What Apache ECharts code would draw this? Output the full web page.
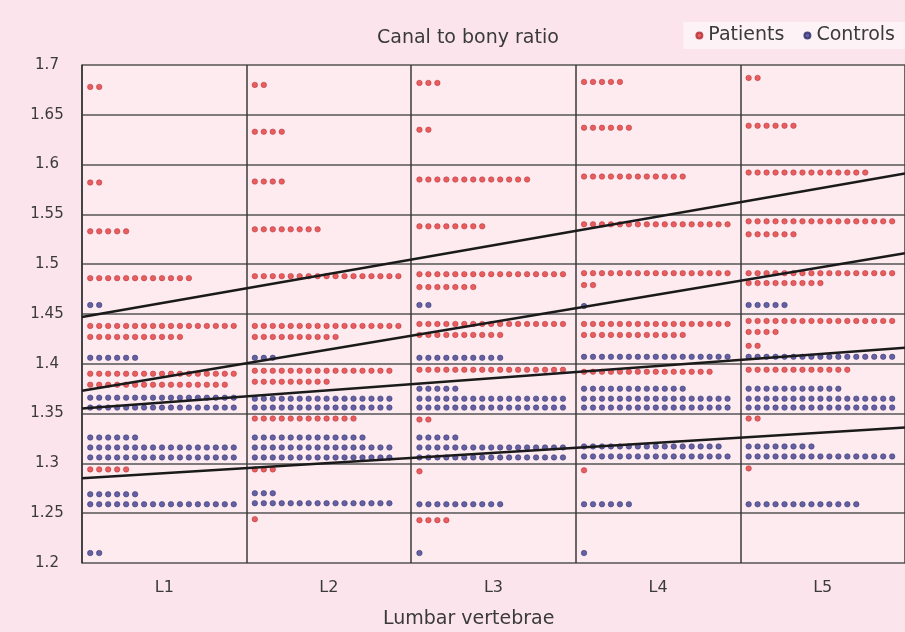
<!DOCTYPE html>
<html><head><meta charset="utf-8">
<script src="https://cdn.jsdelivr.net/npm/echarts@6/dist/echarts.min.js"></script>
<style>html,body{margin:0;padding:0;background:#fbe4eb}#c{width:905px;height:632px}</style>
</head><body><div id="c"></div>
<script>
// Categories (lumbar vertebrae)
const categories = ['L1', 'L2', 'L3', 'L4', 'L5'];

// Each row: [canal-to-bony ratio, number of subjects]
const patientsL1 = [[1.678,2],[1.582,2],[1.533,5],[1.486,12],[1.438,17],[1.427,11],[1.390,17],[1.379,16],[1.294,5]];
const patientsL2 = [[1.680,2],[1.633,4],[1.583,4],[1.535,8],[1.488,17],[1.438,17],[1.427,10],[1.393,16],[1.382,9],[1.345,12],[1.294,3],[1.244,1]];
const patientsL3 = [[1.682,3],[1.635,2],[1.585,13],[1.538,8],[1.490,17],[1.477,7],[1.440,17],[1.429,10],[1.394,17],[1.344,2],[1.292,1],[1.243,4]];
const patientsL4 = [[1.683,5],[1.637,6],[1.588,12],[1.540,17],[1.491,17],[1.479,2],[1.440,17],[1.429,12],[1.392,15],[1.293,1]];
const patientsL5 = [[1.687,2],[1.639,6],[1.592,14],[1.543,17],[1.530,6],[1.491,17],[1.481,9],[1.443,17],[1.432,4],[1.418,2],[1.394,12],[1.345,2],[1.295,1]];

const controlsL1 = [[1.459,2],[1.406,6],[1.366,17],[1.356,17],[1.326,6],[1.316,17],[1.306,17],[1.269,6],[1.259,17],[1.210,2]];
const controlsL2 = [[1.406,3],[1.365,16],[1.356,16],[1.326,13],[1.316,16],[1.306,16],[1.270,3],[1.260,16]];
const controlsL3 = [[1.459,2],[1.406,10],[1.375,5],[1.365,17],[1.356,17],[1.326,5],[1.316,17],[1.306,17],[1.259,10],[1.210,1]];
const controlsL4 = [[1.458,1],[1.407,17],[1.375,12],[1.365,17],[1.356,17],[1.317,16],[1.307,17],[1.259,6],[1.210,1]];
const controlsL5 = [[1.459,5],[1.407,17],[1.375,11],[1.365,17],[1.356,17],[1.317,8],[1.307,17],[1.259,13]];

// Trend lines: value at left edge (L1 start) and right edge (L5 end)
const trendStart = [1.447, 1.373, 1.355, 1.285];
const trendEnd   = [1.591, 1.511, 1.416, 1.336];

// Y axis ticks
const yMin = 1.2, yMax = 1.7, yStep = 0.05;

const patients = [patientsL1, patientsL2, patientsL3, patientsL4, patientsL5];
const controls = [controlsL1, controlsL2, controlsL3, controlsL4, controlsL5];

const DOT_START = 0.05, DOT_STEP = 0.0545;
function dots(groups){
  const out = [];
  groups.forEach((rows, ci) => rows.forEach(([v, n]) => {
    for (let k = 0; k < n; k++) out.push([ci + DOT_START + k * DOT_STEP, v]);
  }));
  return out;
}

const font = 'DejaVu Sans, Verdana, sans-serif';
const txt = '#3a3a3a';
const chart = echarts.init(document.getElementById('c'), null, {renderer: 'canvas'});
const trendSeries = trendStart.map((s, i) => ({
  type: 'line', xAxisIndex: 0, yAxisIndex: 0, symbol: 'none', silent: true, z: 5,
  lineStyle: {color: '#1a1a1a', width: 2.5},
  data: [[0, s], [categories.length, trendEnd[i]]]
}));

chart.setOption({
  backgroundColor: '#fbe4eb',
  animation: false,
  title: [
    {text: 'Canal to bony ratio', left: 372, top: 24, textStyle: {fontFamily: font, fontSize: 19, fontWeight: 'normal', color: txt}},
    {text: 'Lumbar vertebrae', left: 378, top: 605, textStyle: {fontFamily: font, fontSize: 19, fontWeight: 'normal', color: txt}}
  ],
  legend: {
    right: 0, top: 22, icon: 'circle', itemWidth: 6, itemHeight: 6, itemGap: 19,
    backgroundColor: '#fdf2f5', padding: [4, 10, 4, 12],
    textStyle: {fontFamily: font, fontSize: 19, color: txt, padding: [0, 0, 0, 1]},
    data: ['Patients', 'Controls']
  },
  grid: {left: 82, top: 65, width: 824, height: 498, backgroundColor: '#fdebf0', show: true, borderWidth: 0},
  xAxis: [
    {type: 'value', min: 0, max: categories.length, show: false},
    {type: 'category', data: categories, position: 'bottom', boundaryGap: true,
     axisLine: {show: false}, axisTick: {show: false},
     splitLine: {show: true, lineStyle: {color: '#3a3a3a', width: 1.5}},
     axisLabel: {fontFamily: font, fontSize: 16, color: txt, margin: 17}}
  ],
  yAxis: {
    type: 'value', min: yMin, max: yMax, interval: yStep,
    axisLine: {show: true, lineStyle: {color: '#3a3a3a', width: 1.5}},
    axisTick: {show: false},
    splitLine: {show: true, lineStyle: {color: '#555', width: 1.5}},
    axisLabel: {fontFamily: font, fontSize: 15, color: txt, align: 'center', margin: 35}
  },
  series: [
    {name: 'Patients', type: 'scatter', xAxisIndex: 0, symbol: 'circle', symbolSize: 5.5, z: 3,
     itemStyle: {color: '#e23a3a', borderColor: '#b02a30', borderWidth: 0.6}, data: dots(patients)},
    {name: 'Controls', type: 'scatter', xAxisIndex: 0, symbol: 'circle', symbolSize: 5.5, z: 3,
     itemStyle: {color: '#3d3d8f', borderColor: '#2a2a6a', borderWidth: 0.6}, data: dots(controls)},
    ...trendSeries
  ]
});
</script>
</body></html>
